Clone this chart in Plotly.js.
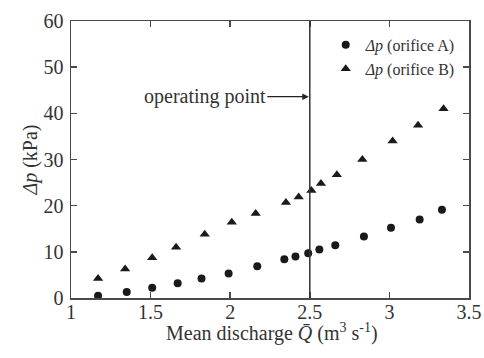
<!DOCTYPE html>
<html>
<head>
<meta charset="utf-8">
<script src="https://cdn.plot.ly/plotly-3.0.1.min.js"></script>
<style>html,body{margin:0;padding:0;background:#fff;}#chart{width:484px;height:358px;}</style>
</head>
<body>
<div id="chart"></div>
<script>
const qA = [1.17, 1.35, 1.51, 1.67, 1.82, 1.99, 2.17, 2.34, 2.41, 2.49, 2.56, 2.66, 2.84, 3.01, 3.19, 3.33];
const dpA = [0.5, 1.3, 2.2, 3.2, 4.2, 5.3, 6.9, 8.4, 9.0, 9.7, 10.5, 11.4, 13.3, 15.2, 17.0, 19.1];
const qB = [1.17, 1.34, 1.51, 1.66, 1.84, 2.01, 2.16, 2.35, 2.43, 2.51, 2.57, 2.67, 2.83, 3.02, 3.18, 3.34];
const dpB = [4.2, 6.3, 8.7, 11.0, 13.8, 16.4, 18.3, 20.7, 21.9, 23.3, 24.8, 26.7, 30.0, 34.0, 37.4, 41.0];
const operatingQ = 2.5;
const annotationY = 43.6;
const xTicks = [1, 1.5, 2, 2.5, 3, 3.5];
const yTicks = [0, 10, 20, 30, 40, 50, 60];
const xTitle = 'Mean discharge <i>Q̄</i> (m<sup>3</sup> s<sup>-1</sup>)';
const yTitle = '<i>Δp</i> (kPa)';

const serif = '"Liberation Serif", serif';
const ink = '#1a1a1a';
const axisCol = '#4a4a4a';

const traces = [
  {x: qA, y: dpA, mode: 'markers', type: 'scatter', name: '<i>Δp</i> (orifice A)',
   marker: {symbol: 'circle', size: 8, color: ink}},
  {x: qB, y: dpB, mode: 'markers', type: 'scatter', name: '<i>Δp</i> (orifice B)',
   marker: {symbol: 'triangle-up', size: 9, color: ink}}
];

const axisCommon = {
  showgrid: false, zeroline: false, showline: true, linecolor: axisCol, linewidth: 1.5,
  mirror: 'ticks', ticks: 'inside', ticklen: 6, tickwidth: 1.5, tickcolor: axisCol,
  tickfont: {family: serif, size: 20, color: '#333'}
};

const layout = {
  width: 484, height: 358,
  margin: {l: 71, r: 15, t: 21, b: 60},
  paper_bgcolor: '#fff', plot_bgcolor: '#fff',
  font: {family: serif, color: '#333'},
  showlegend: true,
  legend: {x: 0.64, y: 0.975, xanchor: 'left', yanchor: 'top', bgcolor: 'rgba(0,0,0,0)',
           font: {family: serif, size: 16, color: '#333'}, tracegroupgap: 4},
  xaxis: Object.assign({}, axisCommon, {
    range: [1, 3.5], tickvals: xTicks, ticktext: xTicks.map(String), ticklabelstandoff: -5
  }),
  yaxis: Object.assign({}, axisCommon, {
    range: [0, 60], tickvals: yTicks, ticktext: yTicks.map(String), ticklabelstandoff: 2,
    title: {text: yTitle, font: {family: serif, size: 20, color: '#333'}, standoff: 0}
  }),
  shapes: [{type: 'line', xref: 'x', yref: 'paper', x0: operatingQ, x1: operatingQ, y0: 0, y1: 1,
            line: {color: '#333', width: 1.5}}],
  annotations: [
    {x: operatingQ, y: annotationY, xref: 'x', yref: 'y', text: 'operating point',
     showarrow: true, arrowhead: 2, arrowsize: 1, arrowwidth: 1.3, arrowcolor: '#222',
     ax: -105, ay: 0, standoff: 1,
     font: {family: serif, size: 20, color: '#333'}},
    {x: 0.504, y: 0, xref: 'paper', yref: 'paper', xanchor: 'center', yanchor: 'middle',
     yshift: -34, text: xTitle, showarrow: false,
     font: {family: serif, size: 20, color: '#333'}}
  ]
};

Plotly.newPlot('chart', traces, layout, {displayModeBar: false, staticPlot: true});
</script>
</body>
</html>
